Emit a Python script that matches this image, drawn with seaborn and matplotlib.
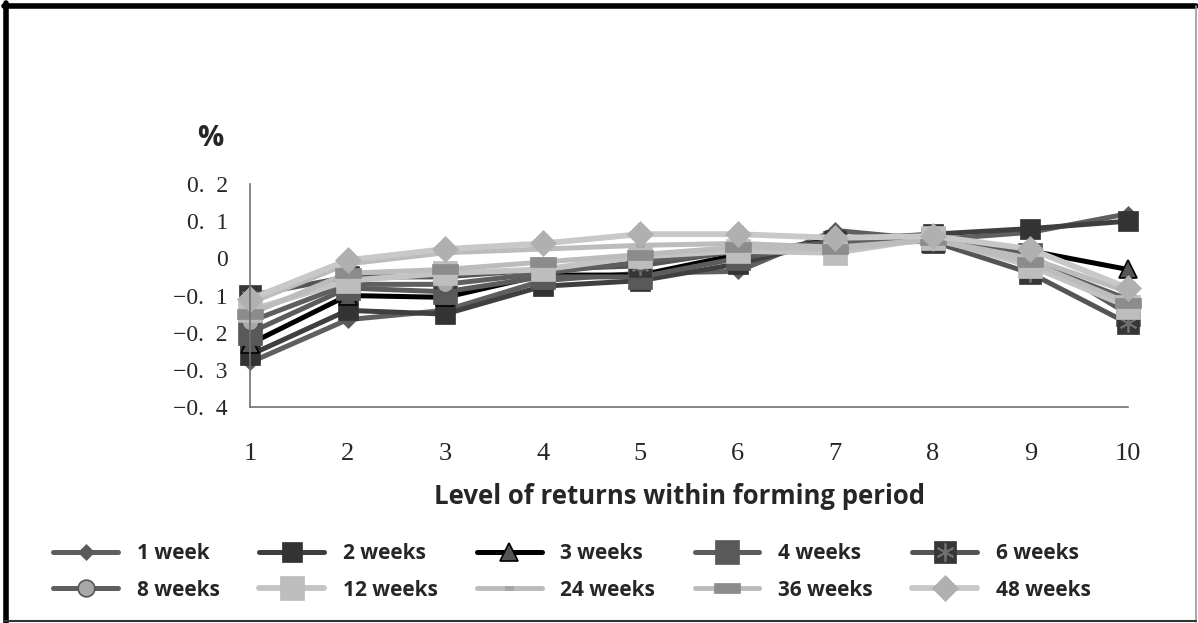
import numpy as np
import pandas as pd
import seaborn as sns
import matplotlib.pyplot as plt
from matplotlib.lines import Line2D

# ---------------- data ----------------
levels = [1, 2, 3, 4, 5, 6, 7, 8, 9, 10]
series_names = ["1 week", "2 weeks", "3 weeks", "4 weeks", "6 weeks",
                "8 weeks", "12 weeks", "24 weeks", "36 weeks", "48 weeks"]
w1 = [-0.28, -0.165, -0.14, -0.06, -0.04, -0.035, 0.075, 0.05, 0.07, 0.12]
w2 = [-0.26, -0.14, -0.15, -0.075, -0.06, -0.015, 0.05, 0.065, 0.08, 0.10]
w3 = [-0.23, -0.10, -0.105, -0.045, -0.045, 0.01, 0.05, 0.05, 0.02, -0.03]
w4 = [-0.20, -0.08, -0.09, -0.05, -0.05, 0.0, 0.04, 0.05, 0.01, -0.15]
w6 = [-0.10, -0.05, -0.05, -0.03, -0.02, 0.02, 0.045, 0.045, -0.04, -0.175]
w8 = [-0.17, -0.07, -0.07, -0.04, -0.01, 0.02, 0.04, 0.05, -0.01, -0.11]
w12 = [-0.14, -0.06, -0.04, -0.03, 0.005, 0.02, 0.015, 0.055, -0.02, -0.13]
w24 = [-0.12, -0.015, 0.015, 0.025, 0.035, 0.04, 0.03, 0.05, 0.0, -0.09]
w36 = [-0.15, -0.04, -0.03, -0.01, 0.01, 0.03, 0.025, 0.05, -0.01, -0.12]
w48 = [-0.11, -0.005, 0.025, 0.04, 0.065, 0.065, 0.055, 0.06, 0.025, -0.08]
all_values = [w1, w2, w3, w4, w6, w8, w12, w24, w36, w48]

y_ticks = [-0.4, -0.3, -0.2, -0.1, 0.0, 0.1, 0.2]
y_tick_labels = ["\u22120.\u20074", "\u22120.\u20073", "\u22120.\u20072", "\u22120.\u20071",
                 "0", "0.\u20071", "0.\u20072"]
x_tick_labels = [str(v) for v in levels]

# ---------------- styles ----------------
rect_marker = [(-1, -0.4), (1, -0.4), (1, 0.4), (-1, 0.4), (-1, -0.4)]
styles = {
    "1 week":   dict(color="#5f5f5f", lw=3.6, marker="D", ms=8, mfc="#5a5a5a", mec="#5a5a5a"),
    "2 weeks":  dict(color="#3f3f3f", lw=3.6, marker="s", ms=15, mfc="#333333", mec="#333333"),
    "3 weeks":  dict(color="#000000", lw=3.6, marker="^", ms=13, mfc="#555555", mec="#000000"),
    "4 weeks":  dict(color="#5c5c5c", lw=3.6, marker="s", ms=17, mfc="#595959", mec="#595959"),
    "6 weeks":  dict(color="#555555", lw=3.6, marker="s", ms=16, mfc="#363636", mec="#363636"),
    "8 weeks":  dict(color="#5f5f5f", lw=3.6, marker="o", ms=12, mfc="#a8a8a8", mec="#555555"),
    "12 weeks": dict(color="#c4c4c4", lw=4.2, marker="s", ms=17, mfc="#bdbdbd", mec="#bdbdbd"),
    "24 weeks": dict(color="#bcbcbc", lw=3.6, marker=rect_marker, ms=6, mfc="#a5a5a5", mec="#a5a5a5"),
    "36 weeks": dict(color="#bcbcbc", lw=3.6, marker=rect_marker, ms=19, mfc="#8c8c8c", mec="#8c8c8c"),
    "48 weeks": dict(color="#c8c8c8", lw=4.2, marker="D", ms=13, mfc="#b0b0b0", mec="#b0b0b0"),
}

sns.set_style("white")
plt.rcParams["font.family"] = ["Liberation Serif", "DejaVu Serif"]
sans = ["Open Sans", "DejaVu Sans"]

fig = plt.figure(figsize=(11.98, 6.23), dpi=100)
ax = fig.add_axes([250 / 1198, 1 - 407 / 623, (1128 - 250) / 1198, (407 - 184) / 623])

handles = {}
for name, vals in zip(series_names, all_values):
    st = styles[name]
    mew = 1.2 if name in ("3 weeks", "8 weeks") else 0.5
    df = pd.DataFrame({"level": levels, "value": vals})
    sns.lineplot(data=df, x="level", y="value", ax=ax, color=st["color"], linewidth=st["lw"],
                 marker=st["marker"], markersize=st["ms"], markerfacecolor=st["mfc"],
                 markeredgecolor=st["mec"], markeredgewidth=mew, clip_on=False, legend=False)
    h = Line2D([], [], color=st["color"], lw=st["lw"], marker=st["marker"], markersize=st["ms"],
               markerfacecolor=st["mfc"], markeredgecolor=st["mec"], markeredgewidth=mew)
    if name == "6 weeks":
        ax.plot(levels, vals, linestyle="none", marker=(6, 2, 0), markersize=13,
                markeredgecolor="#707070", markeredgewidth=1.3, clip_on=False)
        star = Line2D([], [], linestyle="none", marker=(6, 2, 0), markersize=13,
                      markeredgecolor="#707070", markeredgewidth=1.3)
        h = (h, star)
    handles[name] = h

ax.set_xlim(1, 10)
ax.set_ylim(-0.4, 0.2)
ax.set_xticks(levels)
ax.set_xticklabels(x_tick_labels, fontsize=19)
ax.set_yticks(y_ticks)
ax.set_yticklabels(y_tick_labels, fontsize=17)
ax.set_xlabel("")
ax.set_ylabel("")
for s in ["top", "right"]:
    ax.spines[s].set_visible(False)
for s in ["left", "bottom"]:
    ax.spines[s].set_color("#707070")
    ax.spines[s].set_linewidth(1.2)
ax.tick_params(axis="both", which="both", direction="out", length=8, width=1.2,
               color="#707070", pad=8)
ax.tick_params(axis="x", pad=18)

fig.text(210 / 1198, 1 - 138 / 623, "%", fontsize=21, fontweight="bold",
         family=sans, ha="center", va="center")
fig.text(679 / 1198, 1 - 497 / 623, "Level of returns within forming period", fontsize=18.5,
         fontweight="bold", family=sans, ha="center", va="center")

order = ["1 week", "8 weeks", "2 weeks", "12 weeks", "3 weeks", "24 weeks",
         "4 weeks", "36 weeks", "6 weeks", "48 weeks"]
leg = fig.legend([handles[n] for n in order], order, ncol=5, loc="center",
                 bbox_to_anchor=(572 / 1198, 1 - 572 / 623), frameon=False,
                 prop={"family": sans, "weight": "bold", "size": 15},
                 handlelength=3.1, handletextpad=0.9, columnspacing=1.9, labelspacing=0.74)

# figure border
fig.add_artist(Line2D([5.5 / 1198, 5.5 / 1198], [0.5 / 623, 1 - 3 / 623], color="black", lw=4,
                      transform=fig.transFigure))
fig.add_artist(Line2D([3.5 / 1198, 1 - 2 / 1198], [1 - 5.5 / 623, 1 - 5.5 / 623], color="black", lw=4,
                      transform=fig.transFigure))
fig.add_artist(Line2D([1 - 2 / 1198, 1 - 2 / 1198], [1 / 623, 1 - 6 / 623], color="#999999", lw=1.2,
                      transform=fig.transFigure))
fig.add_artist(Line2D([4 / 1198, 1 - 2 / 1198], [2 / 623, 2 / 623], color="#333333", lw=1.5,
                      transform=fig.transFigure))

fig.savefig("out.png", dpi=100)
